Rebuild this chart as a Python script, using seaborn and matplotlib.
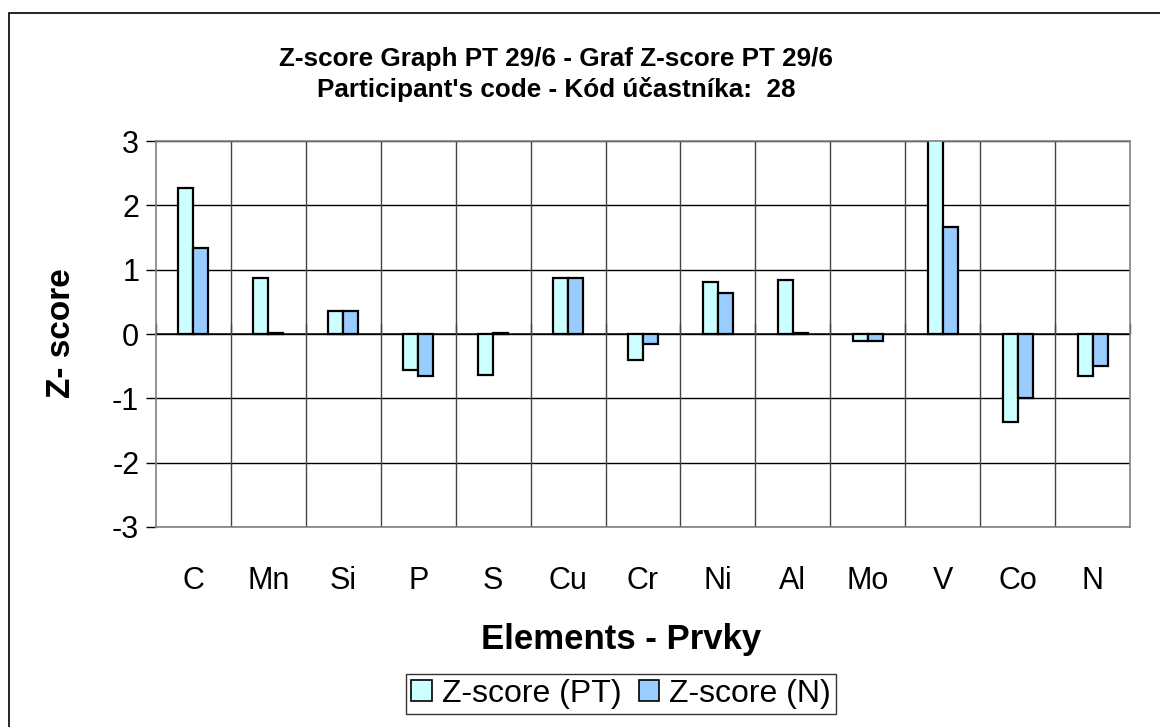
"""Z-score graph PT 29/6, participant 28."""

import matplotlib

matplotlib.use("Agg")

import matplotlib.pyplot as plt
import pandas as pd
import seaborn as sns
from matplotlib.patches import Patch, Rectangle

elements = ["C", "Mn", "Si", "P", "S", "Cu", "Cr", "Ni", "Al", "Mo", "V", "Co", "N"]
z_pt = [2.27, 0.87, 0.36, -0.56, -0.64, 0.87, -0.41, 0.81, 0.84, -0.11, 3.4, -1.37, -0.65]
z_n = [1.33, 0.01, 0.36, -0.65, 0.01, 0.87, -0.15, 0.64, 0.01, -0.11, 1.66, -1.00, -0.50]
series = ["Z-score (PT)", "Z-score (N)"]
colors = ["#CCFFFF", "#99CCFF"]
y_ticks = [-3, -2, -1, 0, 1, 2, 3]

df = pd.DataFrame({"element": elements, series[0]: z_pt, series[1]: z_n})
plot_df = df.melt(id_vars="element", var_name="serie", value_name="z")

sns.set_theme(style="white")
plt.rcParams["font.family"] = ["Liberation Sans", "DejaVu Sans"]
for key in ["text.color", "axes.labelcolor", "xtick.color", "ytick.color"]:
    plt.rcParams[key] = "black"

W, H = 1160, 727
fig = plt.figure(figsize=(W / 100, H / 100), dpi=100)
ax = fig.add_axes([156 / W, (H - 527) / H, (1130 - 156) / W, (527 - 141) / H])

sns.barplot(
    data=plot_df, x="element", y="z", hue="serie", order=elements, hue_order=series,
    palette=colors, width=0.4, gap=0, edgecolor="black", linewidth=1.6,
    saturation=1, ax=ax, legend=False,
)

n = len(elements)
ax.set_xlim(-0.5, n - 0.5)
ax.set_ylim(-3, 3)
ax.set_yticks(y_ticks)
ax.set_yticklabels([str(t) for t in y_ticks], fontsize=22)
ax.tick_params(axis="y", length=7, width=1, color="black", direction="out", left=True, pad=5)
ax.tick_params(axis="x", length=0, labelsize=22, pad=28)

for t in y_ticks:
    ax.axhline(t, color="black", linewidth=1, zorder=0.5)
for b in range(1, n):
    ax.axvline(b - 0.5, color="#444444", linewidth=1, zorder=0.5)
for s in ax.spines.values():
    s.set_color("#808080")
    s.set_linewidth(1.2)

# category axis crossing at zero
sec = ax.secondary_xaxis(0.5)
sec.set_xticks([b - 0.5 for b in range(n + 1)])
sec.set_xticklabels([])
sec.tick_params(length=8, width=1, color="#444444", direction="out")
sec.spines["bottom"].set_visible(False)

ax.set_xlabel("Elements - Prvky", fontsize=25, fontweight="bold")
ax.xaxis.label.set_va("center")
ax.xaxis.set_label_coords((621 - 156) / (1130 - 156), (527 - 639) / (527 - 141))
ax.set_ylabel("Z- score", fontsize=24, fontweight="bold")
ax.yaxis.label.set_va("center")
ax.yaxis.set_label_coords((61 - 156) / (1130 - 156), (527 - 333) / (527 - 141))

fig.text(556 / W, 1 - 59 / H, "Z-score Graph PT 29/6 - Graf Z-score PT 29/6",
         ha="center", va="center", fontsize=18.8, fontweight="bold")
fig.text(556 / W, 1 - 90 / H, "Participant's code - Kód účastníka:  28",
         ha="center", va="center", fontsize=18.8, fontweight="bold")

handles = [Patch(facecolor=c, edgecolor="black", linewidth=1.2) for c in colors]
leg = fig.legend(handles, series, loc="center", bbox_to_anchor=(621 / W, 1 - 694 / H),
                 ncol=2, fontsize=23, frameon=True, fancybox=False, handlelength=0.65,
                 handleheight=0.65, handletextpad=0.3, columnspacing=0.55,
                 borderpad=0.15, borderaxespad=0)
leg.get_frame().set_edgecolor("black")
leg.get_frame().set_linewidth(1)

fig.patches.append(Rectangle((9 / W, -0.01), 1.0, 1 - 13 / H + 0.01,
                             transform=fig.transFigure, fill=False,
                             edgecolor="black", linewidth=1.2))

fig.savefig("out.png", dpi=100)
plt.close(fig)
